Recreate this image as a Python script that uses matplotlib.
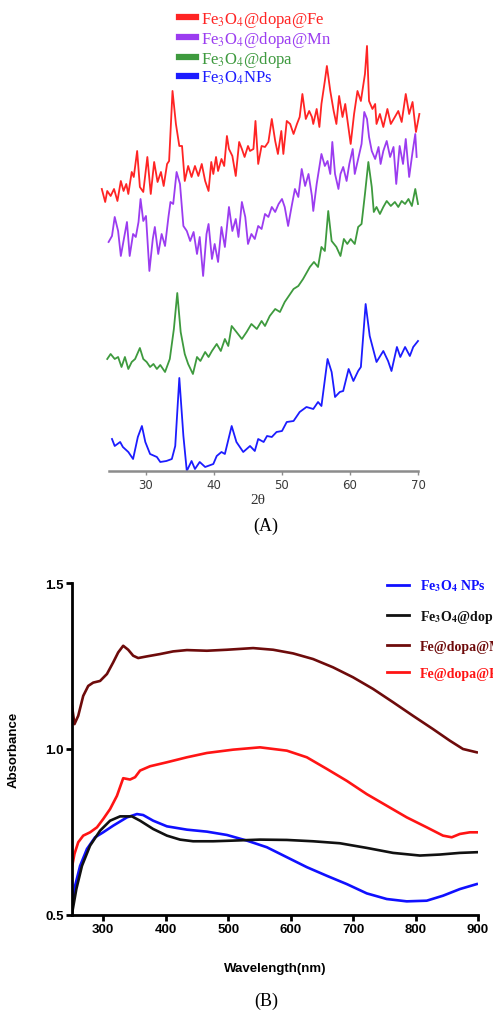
import numpy as np
import matplotlib
matplotlib.use("Agg")
import matplotlib.pyplot as plt
from matplotlib.lines import Line2D

plt.rcParams["mathtext.fontset"] = "stix"

# ---- (A) XRD patterns: 2theta and intensity (arb. units, already offset) ----
red_2t = [23.5, 24.0, 24.3, 24.8, 25.3, 25.8, 26.3, 26.7, 27.1, 27.4, 27.9, 28.2, 28.7, 29.1, 29.6,
          30.2, 30.7, 31.2, 31.7, 32.2, 32.6, 33.1, 33.4, 33.9, 34.4, 34.9, 35.3, 35.7, 36.2, 36.7,
          37.2, 37.7, 38.2, 38.7, 39.2, 39.6, 39.9, 40.3, 40.6, 41.1, 41.5, 41.9, 42.2, 42.7, 43.2,
          43.7, 44.1, 44.5, 45.0, 45.3, 45.8, 46.1, 46.5, 47.0, 47.5, 48.0, 48.5, 49.0, 49.4, 49.9,
          50.2, 50.7, 51.2, 51.7, 52.2, 52.6, 53.0, 53.5, 54.0, 54.4, 54.6, 55.1, 55.5, 55.8, 56.3,
          56.6, 57.1, 57.6, 58.0, 58.4, 58.9, 59.3, 59.8, 60.1, 60.6, 61.1, 61.6, 62.2, 62.5, 62.8,
          63.3, 63.7, 63.9, 64.4, 64.9, 65.5, 66.0, 66.6, 67.1, 67.6, 68.2, 68.7, 69.2, 69.7, 70.2]
red_int = [282, 269, 280, 275, 282, 270, 290, 280, 287, 277, 299, 294, 320, 284, 279,
           314, 277, 309, 289, 299, 285, 307, 310, 380, 347, 325, 325, 290, 305, 294,
           305, 295, 307, 290, 280, 309, 297, 314, 300, 312, 305, 335, 322, 315, 295,
           329, 322, 314, 325, 320, 322, 350, 307, 325, 324, 329, 352, 330, 317, 340,
           317, 350, 347, 337, 347, 354, 377, 352, 360, 354, 347, 362, 344, 367, 390,
           405, 380, 360, 347, 375, 354, 367, 342, 327, 357, 380, 370, 397, 425, 370,
           362, 367, 347, 357, 344, 362, 347, 354, 360, 349, 377, 357, 369, 339, 357]

purple_2t = [24.5, 25.0, 25.4, 25.9, 26.3, 26.8, 27.2, 27.6, 28.1, 28.5, 28.9, 29.2, 29.6, 30.0,
             30.5, 31.0, 31.3, 31.8, 32.3, 32.8, 33.3, 33.6, 34.0, 34.5, 35.0, 35.5, 36.0, 36.5,
             37.0, 37.5, 37.9, 38.4, 38.9, 39.2, 39.7, 40.1, 40.6, 41.1, 41.6, 42.2, 42.7, 43.2,
             43.6, 44.1, 44.6, 45.0, 45.5, 46.0, 46.5, 47.0, 47.5, 48.0, 48.5, 49.0, 49.5, 50.0,
             50.4, 50.9, 51.4, 51.9, 52.4, 52.9, 53.4, 53.9, 54.4, 54.6, 55.1, 55.8, 56.3, 56.7,
             57.1, 57.4, 57.8, 58.3, 58.6, 59.0, 59.5, 59.9, 60.4, 60.7, 61.2, 61.7, 62.1, 62.5,
             62.8, 63.2, 63.7, 64.2, 64.5, 64.9, 65.4, 65.9, 66.4, 66.8, 67.3, 67.8, 68.2, 68.7,
             69.2, 69.6, 69.8]
purple_int = [229, 235, 254, 240, 215, 234, 249, 215, 237, 234, 249, 272, 250, 255,
              200, 232, 244, 217, 237, 225, 254, 269, 267, 299, 287, 245, 240, 230,
              239, 217, 234, 195, 237, 247, 212, 227, 209, 244, 224, 264, 240, 252,
              234, 269, 254, 227, 237, 232, 245, 242, 257, 254, 264, 259, 267, 272,
              264, 245, 264, 282, 274, 302, 285, 297, 275, 260, 287, 317, 305, 310,
              297, 329, 297, 282, 297, 304, 290, 307, 322, 297, 312, 327, 359, 352,
              334, 320, 312, 324, 307, 320, 330, 314, 324, 287, 325, 307, 332, 294,
              319, 337, 314]

green_2t = [24.3, 24.8, 25.4, 25.9, 26.4, 26.9, 27.4, 27.9, 28.4, 29.1, 29.6, 30.1, 30.6, 31.1,
            31.6, 32.1, 32.8, 33.5, 34.1, 34.6, 35.1, 35.7, 36.2, 36.9, 37.5, 38.0, 38.7, 39.2,
            39.7, 40.4, 41.0, 41.6, 42.1, 42.6, 43.3, 44.1, 44.8, 45.5, 46.3, 47.0, 47.5, 48.2,
            49.0, 49.7, 50.4, 51.2, 51.7, 52.4, 53.1, 54.1, 54.7, 55.3, 55.8, 56.3, 56.8, 57.3,
            58.0, 58.6, 59.1, 59.6, 60.1, 60.7, 61.2, 61.7, 62.2, 62.7, 63.2, 63.5, 63.9, 64.4,
            64.9, 65.4, 66.0, 66.6, 67.1, 67.6, 68.1, 68.6, 69.1, 69.6, 70.0]
green_int = [112, 117, 112, 114, 104, 114, 102, 109, 112, 123, 112, 109, 104, 107,
             102, 106, 99, 112, 142, 178, 139, 117, 107, 97, 114, 110, 119, 114,
             120, 127, 120, 132, 125, 145, 139, 132, 139, 147, 142, 150, 145, 155,
             162, 159, 169, 177, 182, 185, 192, 204, 209, 204, 224, 220, 260, 230,
             224, 215, 232, 227, 232, 227, 244, 247, 277, 309, 284, 259, 264, 257,
             264, 270, 265, 269, 264, 270, 267, 272, 265, 282, 267]

blue_2t = [25.0, 25.4, 26.2, 26.6, 27.4, 28.1, 28.8, 29.4, 29.9, 30.6, 31.6, 32.1, 33.0, 33.8,
           34.3, 34.9, 35.5, 36.0, 36.7, 37.2, 37.9, 38.7, 39.9, 40.4, 41.1, 41.6, 42.6, 43.3,
           44.3, 45.3, 46.0, 46.5, 47.3, 47.8, 48.5, 49.2, 50.0, 50.7, 51.7, 52.6, 53.6, 54.6,
           55.3, 55.8, 56.7, 57.3, 57.8, 58.5, 59.0, 59.8, 60.5, 61.2, 61.6, 62.3, 62.9, 63.9,
           64.9, 65.6, 66.1, 66.9, 67.4, 68.1, 68.8, 69.3, 70.0]
blue_int = [32, 25, 29, 24, 19, 12, 34, 45, 29, 17, 14, 9, 10, 12,
            25, 93, 35, 0, 10, 2, 9, 4, 7, 15, 19, 17, 45, 29,
            19, 25, 20, 32, 29, 35, 34, 39, 40, 49, 50, 59, 64, 62,
            69, 65, 112, 99, 74, 79, 80, 102, 90, 100, 104, 167, 135, 109,
            120, 110, 100, 124, 114, 124, 115, 124, 130]

xrd_labels = [r"Fe$_3$O$_4$@dopa@Fe", r"Fe$_3$O$_4$@dopa@Mn", r"Fe$_3$O$_4$@dopa", r"Fe$_3$O$_4$NPs"]
xrd_colors = ["#ff2424", "#9b3cf0", "#3e9a3e", "#1c1cff"]
xrd_ticks = [30, 40, 50, 60, 70]

# ---- (B) UV-vis absorbance ----
uv_blue_x = [250, 255, 263, 274, 287, 300, 316, 338, 354, 364, 380, 402, 434, 466, 498, 530,
             562, 594, 626, 658, 690, 722, 754, 786, 818, 844, 871, 898]
uv_blue_y = [0.518, 0.588, 0.648, 0.699, 0.734, 0.749, 0.769, 0.794, 0.804, 0.801, 0.784, 0.767,
             0.757, 0.751, 0.741, 0.724, 0.704, 0.674, 0.644, 0.618, 0.593, 0.565, 0.548, 0.541,
             0.543, 0.558, 0.578, 0.593]

uv_black_x = [250, 257, 266, 279, 295, 311, 327, 346, 359, 380, 402, 423, 444, 476, 508, 551,
              594, 636, 679, 722, 764, 807, 839, 871, 898]
uv_black_y = [0.503, 0.578, 0.648, 0.709, 0.754, 0.784, 0.797, 0.797, 0.784, 0.759, 0.739, 0.727,
              0.722, 0.722, 0.724, 0.727, 0.726, 0.722, 0.716, 0.702, 0.687, 0.679, 0.682, 0.687,
              0.689]

uv_dred_x = [250, 254, 260, 268, 276, 284, 295, 306, 316, 324, 332, 340, 348, 356, 370, 391,
             412, 434, 466, 498, 540, 572, 604, 636, 668, 700, 732, 764, 796, 828, 855, 876, 898]
uv_dred_y = [1.130, 1.075, 1.100, 1.160, 1.190, 1.200, 1.205, 1.226, 1.261, 1.291, 1.311, 1.299,
             1.281, 1.274, 1.279, 1.286, 1.294, 1.298, 1.296, 1.299, 1.304, 1.299, 1.288, 1.271,
             1.246, 1.216, 1.181, 1.141, 1.100, 1.060, 1.025, 1.000, 0.990]

uv_red_x = [250, 254, 260, 268, 279, 290, 300, 311, 322, 332, 343, 351, 359, 375, 402, 434,
            466, 508, 551, 594, 626, 658, 690, 722, 754, 786, 818, 844, 858, 871, 887, 898]
uv_red_y = [0.644, 0.684, 0.719, 0.739, 0.749, 0.764, 0.789, 0.819, 0.859, 0.912, 0.908, 0.915,
            0.935, 0.948, 0.960, 0.975, 0.988, 0.998, 1.005, 0.995, 0.975, 0.940, 0.904, 0.864,
            0.829, 0.794, 0.764, 0.739, 0.734, 0.744, 0.749, 0.749]

uv_labels = [r"Fe$_\mathbf{3}$O$_\mathbf{4}$ NPs", r"Fe$_\mathbf{3}$O$_\mathbf{4}$@dopa",
             "Fe@dopa@Mn", "Fe@dopa@Fe"]
uv_colors = ["#1010ff", "#111111", "#6e0b0b", "#ff1414"]
uv_xticks = [300, 400, 500, 600, 700, 800, 900]
uv_yticks = [0.5, 1.0, 1.5]


def plot_xrd(fig):
    ax = fig.add_axes([0.2051, 0.5336, 0.6469, 0.4269])
    series = [(red_2t, red_int), (purple_2t, purple_int), (green_2t, green_int), (blue_2t, blue_int)]
    for (x, y), c in zip(series, xrd_colors):
        ax.plot(x, y, color=c, lw=1.3, clip_on=False)
    ax.set_xlim(23.4, 70.3)
    ax.set_ylim(0, 432)
    for s in ["left", "right", "top"]:
        ax.spines[s].set_visible(False)
    ax.spines["bottom"].set_bounds(24.6, 70)
    ax.spines["bottom"].set_color("#8c8c8c")
    ax.spines["bottom"].set_linewidth(1.8)
    ax.set_yticks([])
    ax.set_xticks(xrd_ticks)
    ax.tick_params(axis="x", length=3, width=1, color="#8c8c8c", labelsize=8.5,
                   labelcolor="#3a3a3a", pad=2)
    ax.set_xlabel("2θ", fontsize=11, family="Liberation Serif", color="#333333")
    ax.xaxis.set_label_coords(0.49, -0.05)
    handles = [Line2D([], [], color=c, lw=4.5) for c in xrd_colors]
    leg = ax.legend(handles, xrd_labels, loc="upper left", bbox_to_anchor=(0.349, 0.997),
                    bbox_transform=fig.transFigure, frameon=False, handlelength=1.05,
                    handletextpad=0.3, labelspacing=0.0, borderaxespad=0,
                    prop={"family": "Liberation Serif", "size": 12})
    for t, c in zip(leg.get_texts(), xrd_colors):
        t.set_color(c)
    fig.text(0.54, 1 - 526 / 1012, "(A)", ha="center", va="center",
             fontsize=13, family="Liberation Serif")


def plot_uv(fig):
    ax = fig.add_axes([0.146, 0.0949, 0.8235, 0.328])
    series = [(uv_blue_x, uv_blue_y), (uv_black_x, uv_black_y),
              (uv_dred_x, uv_dred_y), (uv_red_x, uv_red_y)]
    for (x, y), c in zip(series, uv_colors):
        ax.plot(x, y, color=c, lw=1.9)
    ax.set_xlim(250, 900)
    ax.set_ylim(0.5, 1.5)
    ax.spines["right"].set_visible(False)
    ax.spines["top"].set_visible(False)
    for s in ["left", "bottom"]:
        ax.spines[s].set_linewidth(2)
    ax.set_xticks(uv_xticks)
    ax.set_yticks(uv_yticks)
    ax.set_yticklabels(["0.5", "1.0", "1.5"])
    ax.tick_params(length=4, width=2, labelsize=9.5, pad=2)
    for lab in ax.get_xticklabels() + ax.get_yticklabels():
        lab.set_fontweight("bold")
        lab.set_family("Liberation Sans")
    ax.set_xlabel("Wavelength(nm)", fontsize=9.5, fontweight="bold", family="Liberation Sans")
    ax.xaxis.set_label_coords(0.5, -0.142)
    ax.set_ylabel("Absorbance", fontsize=9.5, fontweight="bold", family="Liberation Sans")
    ax.yaxis.set_label_coords(-0.128, 0.5)
    handles = [Line2D([], [], color=c, lw=2) for c in uv_colors]
    leg = ax.legend(handles, uv_labels, loc="upper left", bbox_to_anchor=(381 / 493, 1 - 573 / 1012),
                    bbox_transform=fig.transFigure, frameon=False, handlelength=1.6,
                    handletextpad=0.8, labelspacing=1.05, borderaxespad=0,
                    prop={"family": "Liberation Serif", "size": 10, "weight": "bold"})
    for t, c in zip(leg.get_texts(), uv_colors):
        t.set_color(c)
    fig.text(0.54, 1 - 1001 / 1012, "(B)", ha="center", va="center",
             fontsize=13, family="Liberation Serif")


if __name__ == "__main__":
    fig = plt.figure(figsize=(4.93, 10.12), dpi=100)
    plot_xrd(fig)
    plot_uv(fig)
    fig.savefig("out.png", dpi=100)
